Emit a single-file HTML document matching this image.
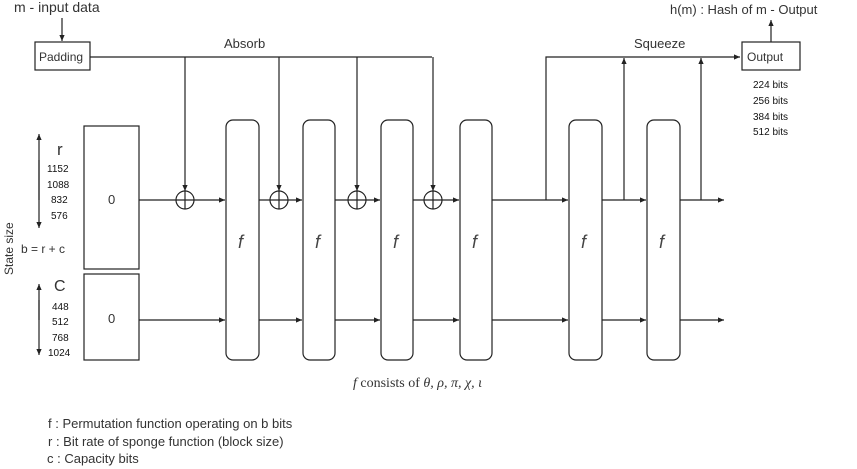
<!DOCTYPE html>
<html><head><meta charset="utf-8"><style>
body{margin:0;background:#fff}
svg{display:block;font-family:"Liberation Sans",sans-serif}
</style></head><body>
<svg width="857" height="469" viewBox="0 0 857 469">
<defs><marker id="ar" markerWidth="6" markerHeight="6" refX="5" refY="3" orient="auto"><path d="M0,0.8 L5,3 L0,5.2z" fill="#222"/></marker></defs>
<g stroke="#222" stroke-width="1.2" fill="none">
<line x1="62" y1="18" x2="62" y2="41" marker-end="url(#ar)"/>
<rect x="35" y="42" width="55" height="28" fill="#fff"/>
<polyline points="90,57 432,57"/>
<line x1="185" y1="57" x2="185" y2="191" marker-end="url(#ar)"/>
<line x1="279" y1="57" x2="279" y2="191" marker-end="url(#ar)"/>
<line x1="357" y1="57" x2="357" y2="191" marker-end="url(#ar)"/>
<line x1="433" y1="57" x2="433" y2="191" marker-end="url(#ar)"/>
<rect x="84" y="126" width="55" height="143"/>
<rect x="84" y="274" width="55" height="86"/>
<line x1="139" y1="200" x2="225" y2="200" marker-end="url(#ar)"/>
<line x1="259" y1="200" x2="302" y2="200" marker-end="url(#ar)"/>
<line x1="335" y1="200" x2="380" y2="200" marker-end="url(#ar)"/>
<line x1="413" y1="200" x2="459" y2="200" marker-end="url(#ar)"/>
<line x1="492" y1="200" x2="568" y2="200" marker-end="url(#ar)"/>
<line x1="602" y1="200" x2="646" y2="200" marker-end="url(#ar)"/>
<line x1="680" y1="200" x2="724" y2="200" marker-end="url(#ar)"/>
<line x1="139" y1="320" x2="225" y2="320" marker-end="url(#ar)"/>
<line x1="259" y1="320" x2="302" y2="320" marker-end="url(#ar)"/>
<line x1="335" y1="320" x2="380" y2="320" marker-end="url(#ar)"/>
<line x1="413" y1="320" x2="459" y2="320" marker-end="url(#ar)"/>
<line x1="492" y1="320" x2="568" y2="320" marker-end="url(#ar)"/>
<line x1="602" y1="320" x2="646" y2="320" marker-end="url(#ar)"/>
<line x1="680" y1="320" x2="724" y2="320" marker-end="url(#ar)"/>
<g fill="#fff">
<circle cx="185" cy="200" r="9"/><circle cx="279" cy="200" r="9"/><circle cx="357" cy="200" r="9"/><circle cx="433" cy="200" r="9"/>
</g>
<path d="M176,200h18M185,191v18M270,200h18M279,191v18M348,200h18M357,191v18M424,200h18M433,191v18"/>
<g fill="#fff">
<rect x="226" y="120" width="33" height="240" rx="7"/>
<rect x="303" y="120" width="32" height="240" rx="7"/>
<rect x="381" y="120" width="32" height="240" rx="7"/>
<rect x="460" y="120" width="32" height="240" rx="7"/>
<rect x="569" y="120" width="33" height="240" rx="7"/>
<rect x="647" y="120" width="33" height="240" rx="7"/>
</g>
<polyline points="546,200 546,57 740,57" marker-end="url(#ar)"/>
<line x1="624" y1="200" x2="624" y2="58" marker-end="url(#ar)"/>
<line x1="701" y1="200" x2="701" y2="58" marker-end="url(#ar)"/>
<rect x="742" y="42" width="58" height="28" fill="#fff"/>
<line x1="771" y1="42" x2="771" y2="20" marker-end="url(#ar)"/>
<line x1="39" y1="200" x2="39" y2="134" marker-end="url(#ar)"/>
<line x1="39" y1="160" x2="39" y2="228" marker-end="url(#ar)"/>
<line x1="39" y1="320" x2="39" y2="284" marker-end="url(#ar)"/>
<line x1="39" y1="300" x2="39" y2="355" marker-end="url(#ar)"/>
</g>
<g fill="#333" font-size="13">
<text x="14" y="12" font-size="14">m - input data</text>
<text x="39" y="61" font-size="12">Padding</text>
<text x="224" y="48">Absorb</text>
<text x="634" y="48">Squeeze</text>
<text x="747" y="61" font-size="12">Output</text>
<text x="670" y="14">h(m) : Hash of m - Output</text>
<g font-size="10" fill="#111"><text x="753" y="88">224 bits</text><text x="753" y="104">256 bits</text><text x="753" y="120">384 bits</text><text x="753" y="135">512 bits</text></g>
<text x="108" y="204">0</text>
<text x="108" y="323">0</text>
<text x="57" y="155" font-size="17">r</text>
<g font-size="10" fill="#111"><text x="47" y="172">1152</text><text x="47" y="188">1088</text><text x="51" y="203">832</text><text x="51" y="219">576</text></g>
<text x="21" y="253" font-size="12">b = r + c</text>
<text x="54" y="291" font-size="16">C</text>
<g font-size="10" fill="#111"><text x="52" y="310">448</text><text x="52" y="325">512</text><text x="52" y="341">768</text><text x="48" y="356">1024</text></g>
<text transform="translate(13,275) rotate(-90)" font-size="12">State size</text>
<g font-style="italic" font-size="18" fill="#444"><text x="238" y="248">f</text><text x="315" y="248">f</text><text x="393" y="248">f</text><text x="472" y="248">f</text><text x="581" y="248">f</text><text x="659" y="248">f</text></g>
<text x="353" y="387" font-family="Liberation Serif,serif" font-size="14"><tspan font-style="italic">f</tspan> consists of <tspan font-style="italic">θ, ρ, π, χ, ι</tspan></text>
<g font-size="13"><text x="48" y="428">f : Permutation function operating on b bits</text>
<text x="48" y="446">r : Bit rate of sponge function (block size)</text>
<text x="47" y="463">c : Capacity bits</text></g>
</g>
</svg>
</body></html>
